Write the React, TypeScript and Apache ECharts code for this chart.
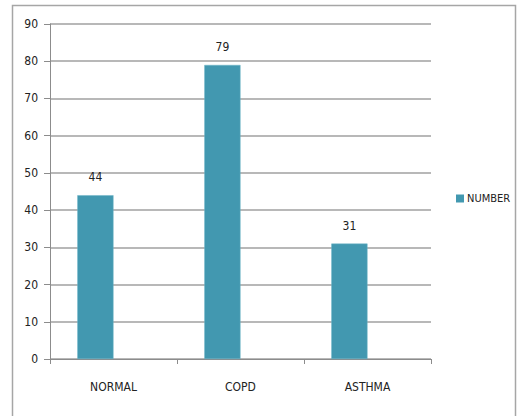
import React, { useEffect, useRef } from "react";
import * as echarts from "echarts";

const categories = ["NORMAL", "COPD", "ASTHMA"];
const numberValues = [44, 79, 31];
const emptyValues: (number | null)[] = [null, null, null];
const yTicks = { min: 0, max: 90, interval: 10 };

const FONT = "'Liberation Sans Narrow', 'DejaVu Sans Condensed', Arial, sans-serif";

export default function App() {
  const ref = useRef<HTMLDivElement>(null);
  useEffect(() => {
    document.body.style.margin = "0";
    const chart = echarts.init(ref.current!, null, { renderer: "svg" });
    chart.setOption({
      animation: false,
      backgroundColor: "#ffffff",
      textStyle: { fontFamily: FONT },
      graphic: [
        {
          type: "rect",
          shape: { x: 12.5, y: 5.5, width: 503, height: 430 },
          style: { fill: "none", stroke: "#a6a6a6", lineWidth: 1.5 },
          silent: true,
        },
      ],
      grid: { left: 50, right: 87, top: 24, bottom: 57, containLabel: false },
      legend: {
        data: ["NUMBER"],
        left: 456,
        top: 193,
        padding: 0,
        itemWidth: 8,
        itemHeight: 8,
        itemGap: 5,
        icon: "rect",
        itemStyle: { borderWidth: 0 },
        textStyle: { fontFamily: FONT, fontSize: 11, color: "#222", padding: [0, 0, 0, -2] },
      },
      xAxis: {
        type: "category",
        data: categories,
        axisLine: { lineStyle: { color: "#8c8c8c", width: 1 } },
        axisTick: { show: true, length: 5, lineStyle: { color: "#8c8c8c" } },
        axisLabel: { margin: 22, color: "#222", fontSize: 12, fontFamily: FONT },
        splitLine: { show: false },
      },
      yAxis: {
        type: "value",
        min: yTicks.min,
        max: yTicks.max,
        interval: yTicks.interval,
        axisLine: { show: true, lineStyle: { color: "#8c8c8c", width: 1 } },
        axisTick: { show: true, length: 6, lineStyle: { color: "#8c8c8c" } },
        axisLabel: { margin: 12, color: "#222", fontSize: 12, fontFamily: FONT },
        splitLine: { show: true, lineStyle: { color: "#a0a0a0", width: 1.5 } },
      },
      series: [
        {
          name: "NUMBER",
          type: "bar",
          data: numberValues,
          barGap: "0%",
          barCategoryGap: "43%",
          itemStyle: { color: "#4298b0", borderColor: "#6cb4c6", borderWidth: 0.5 },
          label: {
            show: true,
            position: "top",
            distance: 12,
            color: "#222",
            fontSize: 12,
            fontFamily: FONT,
          },
        },
        {
          name: "EMPTY",
          type: "bar",
          data: emptyValues,
          barGap: "0%",
          barCategoryGap: "43%",
          itemStyle: { color: "#c0504d" },
        },
      ],
    });
    return () => chart.dispose();
  }, []);
  return <div ref={ref} style={{ width: 518, height: 416 }} />;
}
